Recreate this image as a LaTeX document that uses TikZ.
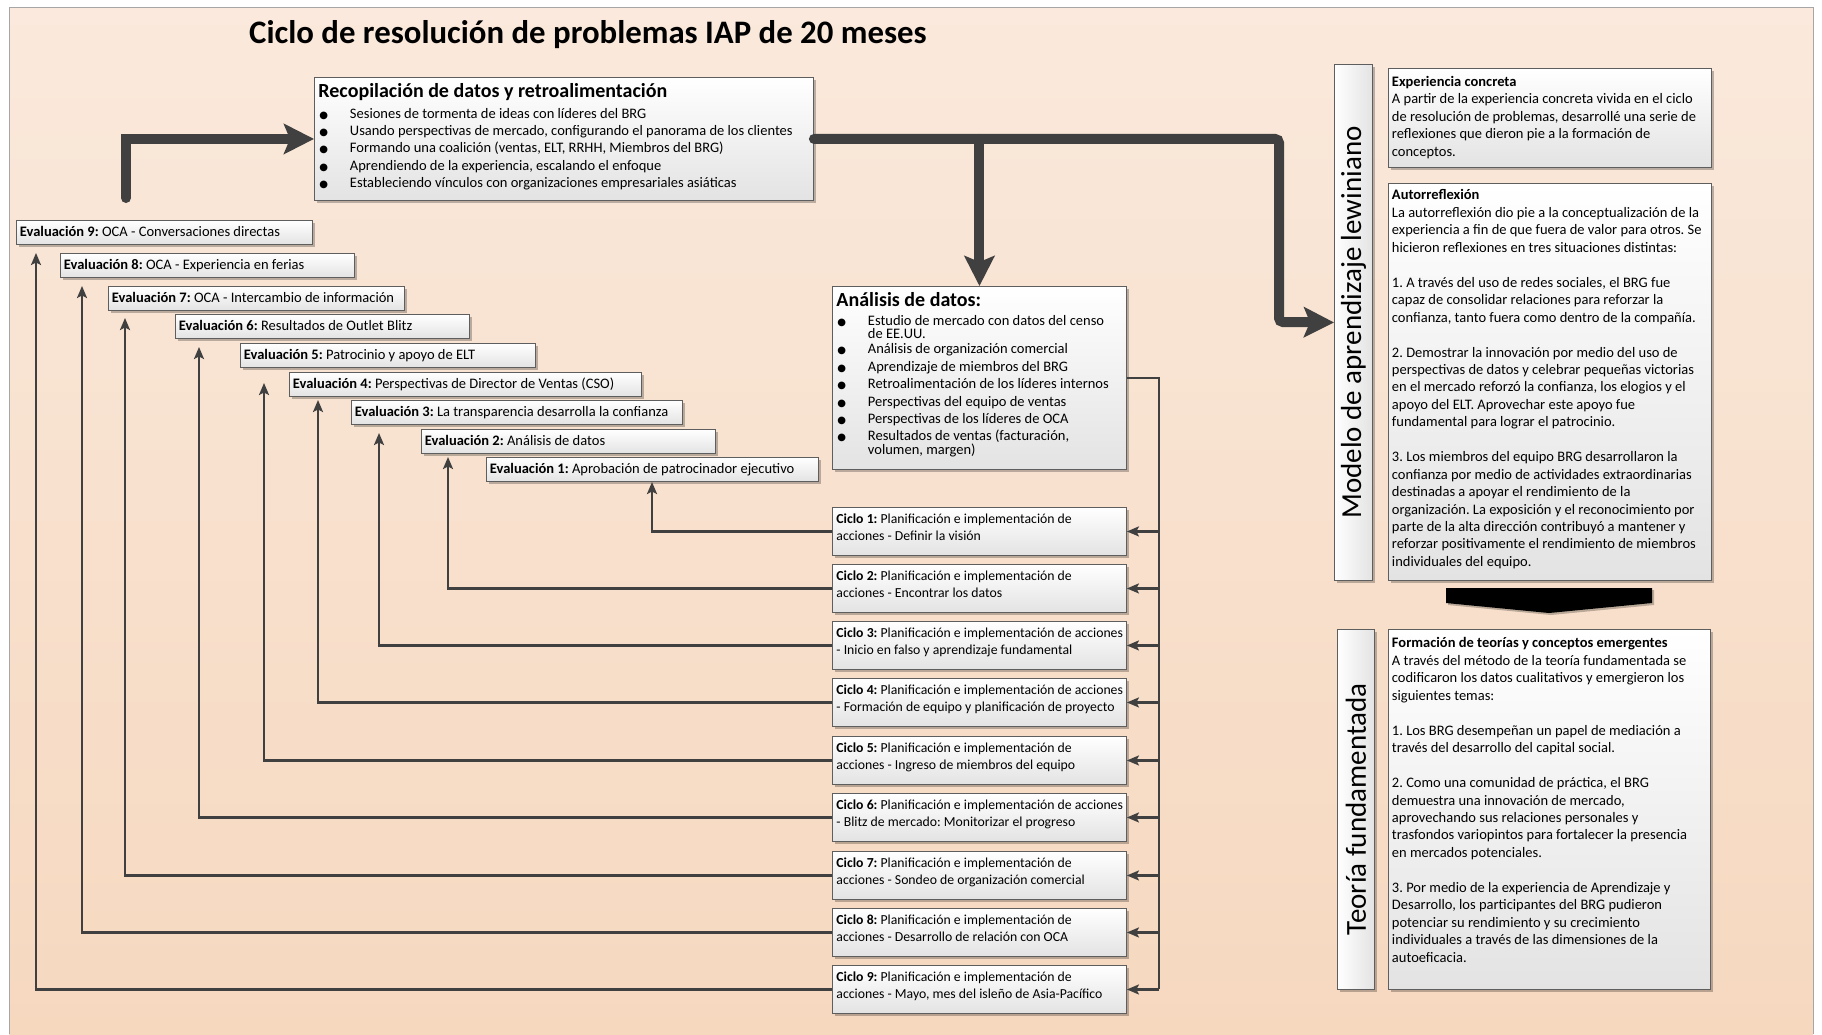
\documentclass[tikz,border=0pt]{standalone}
\usepackage{fontspec}
\setmainfont{Carlito}
\newfontfamily\symbfont{DejaVu Sans}
\usetikzlibrary{arrows.meta,shadows,calc}

\definecolor{linegray}{HTML}{404040}
\definecolor{edgegray}{HTML}{5E5E5E}
\definecolor{boxlow}{HTML}{E3E3E3}
\definecolor{bgtop}{HTML}{FAE9DC}
\definecolor{bgbot}{HTML}{F6D8BF}
\definecolor{bgedge}{HTML}{A6A6A6}

% bullet glyph and bullet item
\newcommand\blt{{\symbfont\fontsize{10}{10}\selectfont ●}}
\newcommand\itm[1]{\makebox[31.5pt][l]{\hspace{1pt}\blt}#1}
% top-aligned block of lines inside a box of fixed size
\newcommand\boxtext[3]{\parbox[c][#2][t]{#1}{\begin{tabular}[t]{@{}l@{}}#3\end{tabular}}}
% one-line evaluation label of fixed width
\newcommand\evl[3]{\makebox[#1][l]{\textbf{Evaluación #2:} #3}}

\begin{document}
\frenchspacing
\begin{tikzpicture}[x=1pt,y=-1pt,
  boxbase/.style={draw=edgegray, line width=0.9pt, anchor=north west,
    drop shadow={shadow xshift=2.5pt, shadow yshift=-2.5pt, fill=black, opacity=0.25}},
  panel/.style={boxbase, top color=white, bottom color=boxlow},
  panelv/.style={boxbase, left color=white, right color=boxlow, inner sep=0pt},
  evalbox/.style={panel, minimum height=24pt, inner xsep=3.5pt, inner ysep=0pt,
    text height=10.3pt, text depth=3.2pt,
    font=\fontsize{14.5}{17.4}\selectfont},
  ciclo/.style={panel, inner xsep=4pt, inner ysep=3.9pt,
    font=\fontsize{13.75}{17.3}\selectfont},
  textpanel/.style={panel, inner xsep=3.5pt,
    font=\fontsize{14.5}{17.45}\selectfont},
  thinline/.style={draw=linegray, line width=2.2pt},
  thinarrow/.style={thinline, -{Stealth[length=12pt,width=10pt,inset=2.5pt]}},
  thickarrow/.style={draw=linegray, line width=10pt, line cap=round,
    -{Stealth[length=30pt,width=30pt,inset=6pt]}}
]
\useasboundingbox (0,0) rectangle (1822,1034);

% page background
\shade[top color=bgtop, bottom color=bgbot] (9,7) rectangle (1813,1034);
\draw[bgedge, line width=0.8pt] (9,1034) -- (9,7) -- (1813,7) -- (1813,1034);

% title
\node[anchor=base west, inner sep=0pt, font=\fontsize{32.8}{39}\selectfont\bfseries]
  (title) at (249,43.3) {Ciclo de resolución de problemas IAP de 20 meses};

% data collection box
\node[panel, inner xsep=4pt, inner ysep=7.8pt, font=\fontsize{14.5}{17.3}\selectfont]
  (recop) at (314,77) {\boxtext{491pt}{107.4pt}{%
  \smash{\fontsize{20}{24}\selectfont\bfseries Recopilación de datos y retroalimentación}\\[3.6pt]
  \itm{Sesiones de tormenta de ideas con líderes del BRG}\\
  \itm{Usando perspectivas de mercado, configurando el panorama de los clientes}\\
  \itm{Formando una coalición (ventas, ELT, RRHH, Miembros del BRG)}\\
  \itm{Aprendiendo de la experiencia, escalando el enfoque}\\
  \itm{Estableciendo vínculos con organizaciones empresariales asiáticas}}};

% data analysis box
\node[panel, inner xsep=4pt, inner ysep=7.8pt, font=\fontsize{14.5}{17.4}\selectfont]
  (analisis) at (832,286) {\boxtext{286pt}{167.4pt}{%
  \smash{\fontsize{20}{24}\selectfont\bfseries Análisis de datos:}\\[1.6pt]
  \itm{Estudio de mercado con datos del censo}\\[-3.9pt]
  \hspace{31.5pt}de EE.UU.\\[-2.4pt]
  \itm{Análisis de organización comercial}\\
  \itm{Aprendizaje de miembros del BRG}\\
  \itm{Retroalimentación de los líderes internos}\\
  \itm{Perspectivas del equipo de ventas}\\
  \itm{Perspectivas de los líderes de OCA}\\
  \itm{Resultados de ventas (facturación,}\\[-3.9pt]
  \hspace{31.5pt}volumen, margen)}};

% evaluation staircase
\node[evalbox] (e9) at (16,220)  {\evl{289pt}{9}{OCA - Conversaciones directas}};
\node[evalbox] (e8) at (60,253)  {\evl{287pt}{8}{OCA - Experiencia en ferias}};
\node[evalbox] (e7) at (108,286) {\evl{289pt}{7}{OCA - Intercambio de información}};
\node[evalbox] (e6) at (175,314) {\evl{287pt}{6}{Resultados de Outlet Blitz}};
\node[evalbox] (e5) at (240,343) {\evl{288pt}{5}{Patrocinio y apoyo de ELT}};
\node[evalbox] (e4) at (289,372) {\evl{345pt}{4}{Perspectivas de Director de Ventas (CSO)}};
\node[evalbox] (e3) at (351,400) {\evl{324pt}{3}{La transparencia desarrolla la confianza}};
\node[evalbox] (e2) at (421,429) {\evl{287pt}{2}{Análisis de datos}};
\node[evalbox] (e1) at (486,457) {\evl{325pt}{1}{Aprobación de patrocinador ejecutivo}};

% action cycles
\node[ciclo] (c1) at (832,507) {\boxtext{286pt}{40.2pt}{\textbf{Ciclo 1:} Planificación e implementación de\\acciones - Definir la visión}};
\node[ciclo] (c2) at (832,564) {\boxtext{286pt}{40.2pt}{\textbf{Ciclo 2:} Planificación e implementación de\\acciones - Encontrar los datos}};
\node[ciclo] (c3) at (832,621) {\boxtext{286pt}{40.2pt}{\textbf{Ciclo 3:} Planificación e implementación de acciones\\- Inicio en falso y aprendizaje fundamental}};
\node[ciclo] (c4) at (832,678) {\boxtext{286pt}{40.2pt}{\textbf{Ciclo 4:} Planificación e implementación de acciones\\- Formación de equipo y planificación de proyecto}};
\node[ciclo] (c5) at (832,736) {\boxtext{286pt}{40.2pt}{\textbf{Ciclo 5:} Planificación e implementación de\\acciones - Ingreso de miembros del equipo}};
\node[ciclo] (c6) at (832,793) {\boxtext{286pt}{40.2pt}{\textbf{Ciclo 6:} Planificación e implementación de acciones\\- Blitz de mercado: Monitorizar el progreso}};
\node[ciclo] (c7) at (832,851) {\boxtext{286pt}{40.2pt}{\textbf{Ciclo 7:} Planificación e implementación de\\acciones - Sondeo de organización comercial}};
\node[ciclo] (c8) at (832,908) {\boxtext{286pt}{40.2pt}{\textbf{Ciclo 8:} Planificación e implementación de\\acciones - Desarrollo de relación con OCA}};
\node[ciclo] (c9) at (832,965) {\boxtext{286pt}{40.2pt}{\textbf{Ciclo 9:} Planificación e implementación de\\acciones - Mayo, mes del isleño de Asia-Pacífico}};

% right-hand column
\node[panelv, minimum width=38pt, minimum height=516pt] (modelo) at (1334,64)
  {\rotatebox{90}{\fontsize{29}{34}\selectfont Modelo de aprendizaje lewiniano}};
\node[panelv, minimum width=37pt, minimum height=360pt] (teoria) at (1337,629)
  {\rotatebox{90}{\fontsize{29}{34}\selectfont Teoría fundamentada}};

\node[textpanel, inner ysep=5.8pt] (exp) at (1388,68) {\boxtext{316pt}{87.4pt}{%
  \textbf{Experiencia concreta}\\
  A partir de la experiencia concreta vivida en el ciclo\\
  de resolución de problemas, desarrollé una serie de\\
  reflexiones que dieron pie a la formación de\\
  conceptos.}};

\node[textpanel, inner ysep=4.3pt] (auto) at (1388,183) {\boxtext{316pt}{388.4pt}{%
  \textbf{Autorreflexión}\\
  La autorreflexión dio pie a la conceptualización de la\\
  experiencia a fin de que fuera de valor para otros. Se\\
  hicieron reflexiones en tres situaciones distintas:\\
  \\
  1. A través del uso de redes sociales, el BRG fue\\
  capaz de consolidar relaciones para reforzar la\\
  confianza, tanto fuera como dentro de la compañía.\\
  \\
  2. Demostrar la innovación por medio del uso de\\
  perspectivas de datos y celebrar pequeñas victorias\\
  en el mercado reforzó la confianza, los elogios y el\\
  apoyo del ELT. Aprovechar este apoyo fue\\
  fundamental para lograr el patrocinio.\\
  \\
  3. Los miembros del equipo BRG desarrollaron la\\
  confianza por medio de actividades extraordinarias\\
  destinadas a apoyar el rendimiento de la\\
  organización. La exposición y el reconocimiento por\\
  parte de la alta dirección contribuyó a mantener y\\
  reforzar positivamente el rendimiento de miembros\\
  individuales del equipo.}};

\node[textpanel, inner ysep=6.3pt] (form) at (1388,629) {\boxtext{315pt}{347.4pt}{%
  \textbf{Formación de teorías y conceptos emergentes}\\
  A través del método de la teoría fundamentada se\\
  codificaron los datos cualitativos y emergieron los\\
  siguientes temas:\\
  \\
  1. Los BRG desempeñan un papel de mediación a\\
  través del desarrollo del capital social.\\
  \\
  2. Como una comunidad de práctica, el BRG\\
  demuestra una innovación de mercado,\\
  aprovechando sus relaciones personales y\\
  trasfondos variopintos para fortalecer la presencia\\
  en mercados potenciales.\\
  \\
  3. Por medio de la experiencia de Aprendizaje y\\
  Desarrollo, los participantes del BRG pudieron\\
  potenciar su rendimiento y su crecimiento\\
  individuales a través de las dimensiones de la\\
  autoeficacia.}};

% block arrow from reflection to theory
\path[fill=black, drop shadow={shadow xshift=2pt, shadow yshift=-2pt, fill=black, opacity=0.25}]
  (1446,588) -- (1652,588) -- (1652,603) -- (1549,613) -- (1446,603) -- cycle;

% heavy flow arrows
\coordinate (loopstart) at (126,198);
\coordinate (turn) at (1279,322);
\draw[thickarrow] (loopstart) |- (recop.west);
\draw[thickarrow, rounded corners=4pt] (recop.east) -| (turn) -- (modelo.west);
\draw[thickarrow] (recop.east -| analisis.north) -- (analisis.north);

% distribution bus from the analysis to every cycle
\coordinate (bus) at ($(c9.east)+(32,0)$);
\draw[thinline] (analisis.east) -| (bus);
\foreach \i in {1,...,9}
  \draw[thinarrow] (c\i.east -| bus) -- (c\i.east);

% feedback from each cycle to its evaluation
\coordinate (t9) at (36,253);
\coordinate (t8) at (82,286);
\coordinate (t7) at (125,318);
\coordinate (t6) at (199,347);
\coordinate (t5) at (264,383);
\coordinate (t4) at (318,400);
\coordinate (t3) at (379,433);
\coordinate (t2) at (448,457);
\coordinate (t1) at (652,482);
\foreach \i in {1,...,9}
  \draw[thinarrow] (c\i.west) -| (t\i);
\end{tikzpicture}
\end{document}
